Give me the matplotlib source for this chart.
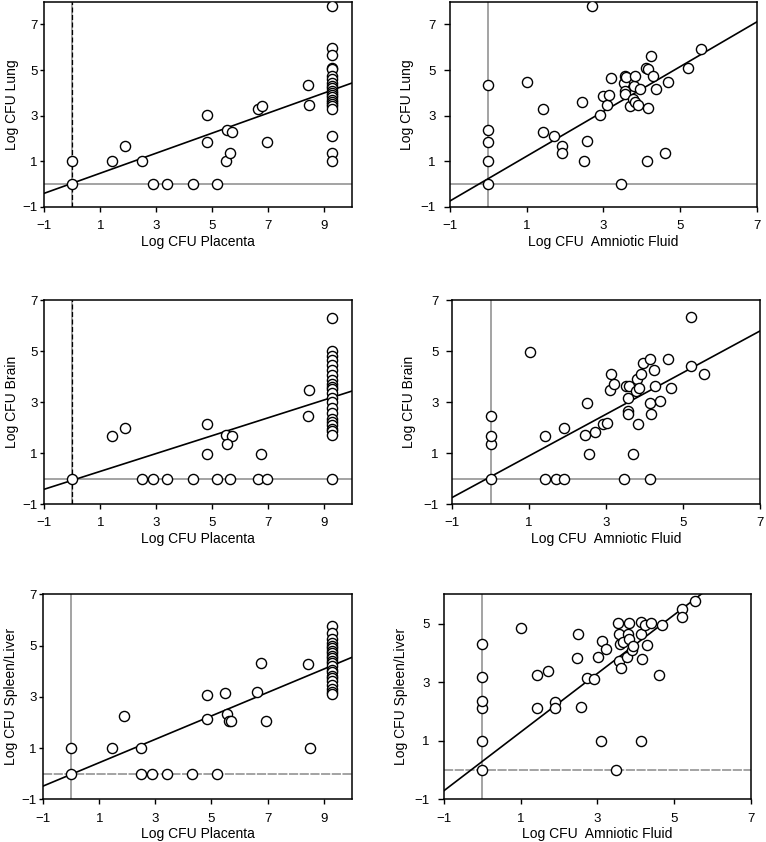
import matplotlib
matplotlib.use('Agg')
import matplotlib.pyplot as plt

plt.rcParams['font.family'] = ['Liberation Sans', 'DejaVu Sans']

# ---------------- data ----------------
# Panel A: Placenta vs Lung
plac_lung_x = [0, 0, 1.42, 1.88, 2.49, 2.89, 3.40, 4.32, 5.18, 4.83, 4.83, 5.49, 5.55, 5.70, 5.64,
               6.64, 6.77, 6.95, 8.44, 8.48,
               9.3, 9.3, 9.3, 9.3, 9.3, 9.3, 9.3, 9.3, 9.3, 9.3, 9.3, 9.3, 9.3, 9.3, 9.3, 9.3,
               9.3, 9.3, 9.3, 9.3, 9.3, 9.3]
plac_lung_y = [1.0, 0, 1.0, 1.67, 1.0, 0, 0, 0, 0, 3.04, 1.85, 1.0, 2.35, 2.27, 1.35,
               3.29, 3.41, 1.85, 4.36, 3.48,
               7.8, 5.95, 5.65, 5.1, 5.05, 4.75, 4.6, 4.45, 4.3, 4.2, 4.1, 4.0, 3.9, 3.8, 3.7, 3.6,
               3.5, 3.4, 3.3, 2.1, 1.35, 1.0]

# Panel B: Amniotic fluid vs Lung
amn_lung_x = [0, 0, 0, 0, 0, 1.01, 1.43, 1.43, 1.72, 1.91, 1.91,
              2.50, 2.45, 2.57, 2.71, 2.90, 2.99, 3.10, 3.15, 3.21,
              3.46, 3.53, 3.57, 3.60, 3.56, 3.57, 3.69, 3.77, 3.79, 3.83, 3.83, 3.91, 3.95,
              4.12, 4.15, 4.23, 4.28, 4.17, 4.13, 4.38, 4.68, 4.60, 5.20, 5.53]
amn_lung_y = [0, 1.0, 1.85, 2.36, 4.36, 4.48, 3.29, 2.29, 2.11, 1.67, 1.35,
              1.0, 3.61, 1.87, 7.81, 3.02, 3.85, 3.46, 3.92, 4.67,
              0, 4.43, 4.74, 4.70, 4.08, 3.93, 3.43, 3.75, 4.29, 4.74, 3.58, 3.48, 4.17,
              5.11, 5.05, 5.62, 4.74, 3.35, 1.0, 4.17, 4.48, 1.35, 5.11, 5.93]

# Panel C: Placenta vs Brain
plac_brain_x = [0, 1.42, 1.88, 2.49, 2.89, 3.40, 4.32, 5.18, 5.63, 6.65, 6.95,
                4.83, 4.83, 5.49, 5.70, 5.55, 6.76, 8.48, 8.44,
                9.3, 9.3, 9.3, 9.3, 9.3, 9.3, 9.3, 9.3, 9.3, 9.3, 9.3, 9.3, 9.3, 9.3, 9.3, 9.3,
                9.3, 9.3, 9.3, 9.3, 9.3, 9.3, 9.3]
plac_brain_y = [0, 1.68, 1.97, 0, 0, 0, 0, 0, 0, 0, 0,
                2.12, 0.96, 1.69, 1.68, 1.34, 0.96, 3.47, 2.46,
                6.3, 5.0, 4.8, 4.65, 4.45, 4.25, 4.05, 3.85, 3.7, 3.6, 3.5, 3.35, 3.15, 3.0, 2.75, 2.55,
                2.35, 2.2, 2.1, 1.95, 1.85, 1.7, 0]

# Panel D: Amniotic fluid vs Brain
amn_brain_x = [0, 0, 0, 0, 1.01, 1.42, 1.71, 1.91, 1.42, 1.91, 2.46, 2.51, 2.57, 2.72, 2.91,
               3.03, 3.10, 3.14, 3.21, 3.47, 3.52, 3.60, 3.57, 3.57, 3.57, 3.69, 3.77, 3.81,
               3.85, 3.84, 3.95, 3.92, 4.14, 4.14, 4.17, 4.14, 4.24, 4.28, 4.40, 4.62, 4.69,
               5.20, 5.20, 5.54]
amn_brain_y = [0, 1.35, 1.68, 2.46, 4.97, 0, 0, 0, 1.68, 1.97, 1.70, 2.96, 0.96, 1.84, 2.13,
               2.19, 3.47, 4.09, 3.70, 0, 3.63, 3.63, 3.14, 2.66, 2.54, 0.96, 3.45, 3.92,
               3.54, 2.12, 4.54, 4.09, 4.70, 2.96, 2.53, 0, 4.25, 3.63, 3.04, 4.70, 3.53,
               4.42, 6.33, 4.09]

# Panel E: Placenta vs Spleen/Liver
plac_sl_x = [0, 0, 1.44, 1.88, 2.49, 2.49, 2.89, 3.40, 4.32, 5.19, 4.83, 4.83, 5.49, 5.55,
             5.64, 5.70, 6.64, 6.77, 6.95, 8.44, 8.50,
             9.3, 9.3, 9.3, 9.3, 9.3, 9.3, 9.3, 9.3, 9.3, 9.3, 9.3, 9.3, 9.3, 9.3, 9.3, 9.3,
             9.3, 9.3, 9.3, 9.3, 9.3, 9.3]
plac_sl_y = [1.0, 0, 1.0, 2.26, 1.0, 0, 0, 0, 0, 0, 3.08, 2.13, 3.14, 2.32,
             2.07, 2.07, 3.20, 4.31, 2.07, 4.27, 1.0,
             5.75, 5.5, 5.25, 5.1, 5.0, 4.9, 4.8, 4.7, 4.6, 4.5, 4.4, 4.3, 4.2, 4.05, 3.95, 3.8,
             3.75, 3.6, 3.45, 3.3, 3.2, 3.1]

# Panel F: Amniotic fluid vs Spleen/Liver
amn_sl_x = [0, 0, 0, 0, 0, 0, 1.02, 1.42, 1.42, 1.72, 1.90, 1.90, 2.50, 2.46, 2.57, 2.72,
            2.91, 3.01, 3.12, 3.21, 3.10, 3.47, 3.54, 3.57, 3.59, 3.57, 3.60, 3.67, 3.76,
            3.80, 3.83, 3.83, 3.89, 3.93, 4.12, 4.13, 4.17, 4.12, 4.24, 4.28, 4.39, 4.61,
            4.69, 5.21, 5.21, 5.54]
amn_sl_y = [0, 1.0, 2.11, 2.35, 3.18, 4.30, 4.84, 3.23, 2.11, 3.38, 2.31, 2.11, 4.65, 3.81,
            2.15, 3.14, 3.12, 3.87, 4.40, 4.14, 0.99, 0, 5.03, 4.66, 4.31, 3.72, 3.47, 4.37,
            3.85, 4.66, 5.03, 4.47, 4.10, 4.24, 5.07, 4.66, 3.78, 0.99, 4.94, 4.26, 5.03,
            3.23, 4.94, 5.50, 5.24, 5.76]

# fitted regression lines: (intercept, slope)
fit_intercepts = [0.03, 0.23, -0.07, 0.075, -0.024, 0.29]
fit_slopes = [0.44, 0.984, 0.35, 0.815, 0.456, 1.003]

x_labels = ['Log CFU Placenta', 'Log CFU  Amniotic Fluid'] * 3
y_labels = ['Log CFU Lung', 'Log CFU Lung', 'Log CFU Brain', 'Log CFU Brain',
            'Log CFU Spleen/Liver', 'Log CFU Spleen/Liver']
xlims = [(-1, 10), (-1, 7), (-1, 10), (-1, 7), (-1, 10), (-1, 7)]
ylims = [(-1, 8), (-1, 8), (-1, 7), (-1, 7), (-1, 7), (-1, 6)]
xticks_left = [-1, 1, 3, 5, 7, 9]
xticks_right = [-1, 1, 3, 5, 7]
yticks_main = [-1, 1, 3, 5, 7]
yticks_short = [-1, 1, 3, 5]

datasets = [(plac_lung_x, plac_lung_y), (amn_lung_x, amn_lung_y),
            (plac_brain_x, plac_brain_y), (amn_brain_x, amn_brain_y),
            (plac_sl_x, plac_sl_y), (amn_sl_x, amn_sl_y)]

positions = [
    [0.0578, 0.7545, 0.4017, 0.2435],
    [0.5871, 0.7545, 0.4012, 0.2435],
    [0.0578, 0.4014, 0.4017, 0.2423],
    [0.5905, 0.4014, 0.4013, 0.2423],
    [0.0565, 0.0507, 0.4026, 0.2435],
    [0.5792, 0.0507, 0.4016, 0.2435],
]

fig = plt.figure(figsize=(7.66, 8.42), dpi=100)

for i in range(6):
    ax = fig.add_axes(positions[i])
    xs, ys = datasets[i]
    x0, x1 = xlims[i]
    y0, y1 = ylims[i]
    ax.set_xlim(x0, x1)
    ax.set_ylim(y0, y1)

    # reference lines at zero
    if i >= 4:
        ax.axhline(0, color='#8a8a8a', lw=1.1, ls=(0, (6, 1)), zorder=1)
    else:
        ax.axhline(0, color='#8a8a8a', lw=1.1, zorder=1)
    ax.axvline(0, color='#8a8a8a', lw=1.1, zorder=1)
    if i in (0, 2):
        ax.axvline(0, color='black', lw=0.9, ls=(0, (4, 2)), zorder=1.5)

    # regression line
    a, b = fit_intercepts[i], fit_slopes[i]
    ax.plot([x0, x1], [a + b * x0, a + b * x1], color='black', lw=1.2, zorder=2)

    # points
    ax.plot(xs, ys, ls='none', marker='o', ms=7.3, mfc='white', mec='black', mew=1.0, zorder=3)

    left_col = (i % 2 == 0)
    ax.set_xticks(xticks_left if left_col else xticks_right)
    ax.set_yticks(yticks_short if i == 5 else yticks_main)
    ax.tick_params(axis='x', direction='out', length=3.5, width=1, labelsize=9.5, pad=6, colors='black')
    ax.tick_params(axis='y', direction='out', length=3.0 if left_col else 4.0, width=1,
                   labelsize=9.5, pad=2 if left_col else 6, colors='black')
    for s in ax.spines.values():
        s.set_linewidth(1.1)
    ax.set_xlabel(x_labels[i], fontsize=10, labelpad=2)
    ax.set_ylabel(y_labels[i], fontsize=10, labelpad=2 if left_col else 5)

fig.savefig('out.png', dpi=100)
